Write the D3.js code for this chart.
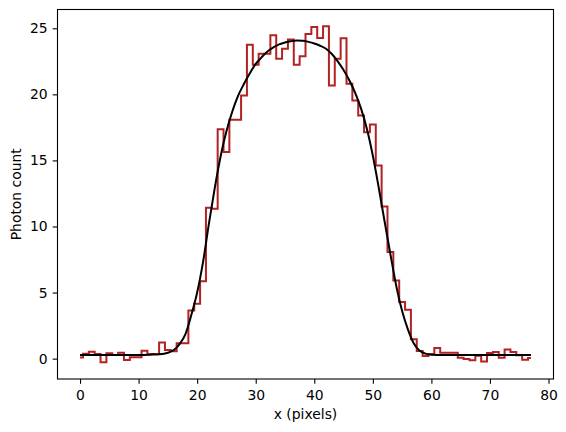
<!DOCTYPE html>
<html>
<head>
<meta charset="utf-8">
<script src="https://cdn.jsdelivr.net/npm/d3@7"></script>
<style>
  body { margin: 0; background: #fff; }
  text { font-family: "DejaVu Sans", sans-serif; }
</style>
</head>
<body>
<div id="chart"></div>
<script>
// pixel index along the slit
const pixels = [0, 1, 2, 3, 4, 5, 6, 7, 8, 9, 10, 11, 12, 13, 14, 15, 16, 17, 18, 19,
  20, 21, 22, 23, 24, 25, 26, 27, 28, 29, 30, 31, 32, 33, 34, 35, 36, 37, 38, 39,
  40, 41, 42, 43, 44, 45, 46, 47, 48, 49, 50, 51, 52, 53, 54, 55, 56, 57, 58, 59,
  60, 61, 62, 63, 64, 65, 66, 67, 68, 69, 70, 71, 72, 73, 74, 75, 76, 77];

// measured photon counts
const counts = [0.08, 0.37, 0.52, 0.35, -0.27, 0.4, 0.28, 0.45, -0.1, 0.1,
  0.1, 0.6, 0.35, 0.35, 1.22, 0.65, 0.55, 1.17, 1.17, 3.65,
  4.16, 5.86, 11.42, 11.35, 17.35, 15.63, 18.07, 18.07, 19.92, 23.75,
  22.24, 23.07, 23.07, 24.48, 22.69, 23.45, 24.15, 22.24, 22.89, 24.56,
  25.1, 24.26, 25.15, 20.67, 22.69, 24.24, 20.8, 19.54, 18.4, 17.14,
  17.72, 14.62, 11.52, 8.07, 5.92, 4.28, 3.7, 1.46, 0.58, 0.2,
  0.36, 0.8, 0.45, 0.45, 0.45, 0.07, -0.02, -0.12, 0.22, -0.22,
  0.43, 0.5, 0.07, 0.7, 0.5, 0.25, -0.08, 0.05];

// fitted profile
const fitX = [0, 5, 10, 12, 13.6, 15, 16, 17, 18, 19, 20, 21, 22, 23, 24, 25, 26, 27, 28, 29,
  30, 31, 32, 33, 34, 35, 36, 37, 38, 39, 40, 41, 42, 43, 44, 45, 46, 47, 48, 49,
  50, 51, 52, 53, 54, 55, 56, 57, 58, 59, 60, 62, 65, 70, 77];
const fitY = [0.28, 0.28, 0.28, 0.3, 0.33, 0.45, 0.65, 1.1, 1.85, 3.3, 5.0, 7.3, 10.2, 12.9, 15.3, 17.2, 18.7, 19.9, 20.8, 21.6,
  22.3, 22.8, 23.25, 23.55, 23.78, 23.93, 24.02, 24.07, 24.05, 23.97, 23.85, 23.68, 23.45, 23.05, 22.5, 21.85, 21.05, 20.1, 18.9, 17.35,
  15.35, 12.95, 10.4, 7.9, 5.5, 3.6, 2.2, 1.15, 0.6, 0.38, 0.3, 0.28, 0.28, 0.28, 0.28];

const xTicks = [0, 10, 20, 30, 40, 50, 60, 70, 80];
const yTicks = [0, 5, 10, 15, 20, 25];

const width = 566, height = 432;
const m = { left: 57.5, right: 553.5, top: 9.5, bottom: 379 };

const svg = d3.select("#chart").append("svg")
  .attr("width", width)
  .attr("height", height);

const xPad = (d3.max(pixels) - d3.min(pixels)) * 0.05;
const x = d3.scaleLinear()
  .domain([d3.min(pixels) - xPad, d3.max(pixels) + xPad])
  .range([m.left, m.right]);

const yLo = Math.min(d3.min(counts), d3.min(fitY));
const yHi = Math.max(d3.max(counts), d3.max(fitY));
const yPad = (yHi - yLo) * 0.05;
const y = d3.scaleLinear()
  .domain([yLo - yPad, yHi + yPad])
  .range([m.bottom, m.top]);

// step line (mid)
const step = d3.line()
  .x((d, i) => x(pixels[i]))
  .y(d => y(d))
  .curve(d3.curveStep);

svg.append("path")
  .datum(counts)
  .attr("fill", "none")
  .attr("stroke", "#b22222")
  .attr("stroke-width", 2)
  .attr("d", step);

const fit = d3.line()
  .x((d, i) => x(fitX[i]))
  .y(d => y(d))
  .curve(d3.curveMonotoneX);

svg.append("path")
  .datum(fitY)
  .attr("fill", "none")
  .attr("stroke", "#000")
  .attr("stroke-width", 2)
  .attr("d", fit);

// frame
svg.append("rect")
  .attr("x", m.left).attr("y", m.top)
  .attr("width", m.right - m.left).attr("height", m.bottom - m.top)
  .attr("fill", "none")
  .attr("stroke", "#000")
  .attr("stroke-width", 1.1);

const xAxis = svg.append("g")
  .attr("transform", `translate(0,${m.bottom})`)
  .call(d3.axisBottom(x).tickValues(xTicks).tickSizeInner(4.8).tickSizeOuter(0).tickFormat(d3.format("d")));
xAxis.select(".domain").remove();
xAxis.selectAll("line").attr("stroke-width", 1.1);
xAxis.selectAll("text")
  .attr("y", 21).attr("dy", null)
  .attr("font-size", 13.9)
  .attr("font-family", "DejaVu Sans")
  .attr("fill", "#000");

const yAxis = svg.append("g")
  .attr("transform", `translate(${m.left},0)`)
  .call(d3.axisLeft(y).tickValues(yTicks).tickSizeInner(4.8).tickSizeOuter(0).tickFormat(d3.format("d")));
yAxis.select(".domain").remove();
yAxis.selectAll("line").attr("stroke-width", 1.1);
yAxis.selectAll("text")
  .attr("x", -9.8)
  .attr("font-size", 13.9)
  .attr("font-family", "DejaVu Sans")
  .attr("fill", "#000");

svg.append("text")
  .attr("x", (m.left + m.right) / 2)
  .attr("y", 418.5)
  .attr("text-anchor", "middle")
  .attr("font-size", 13.9)
  .text("x (pixels)");

svg.append("text")
  .attr("transform", `translate(20.5,${(m.top + m.bottom) / 2}) rotate(-90)`)
  .attr("text-anchor", "middle")
  .attr("font-size", 13.9)
  .text("Photon count");
</script>
</body>
</html>
